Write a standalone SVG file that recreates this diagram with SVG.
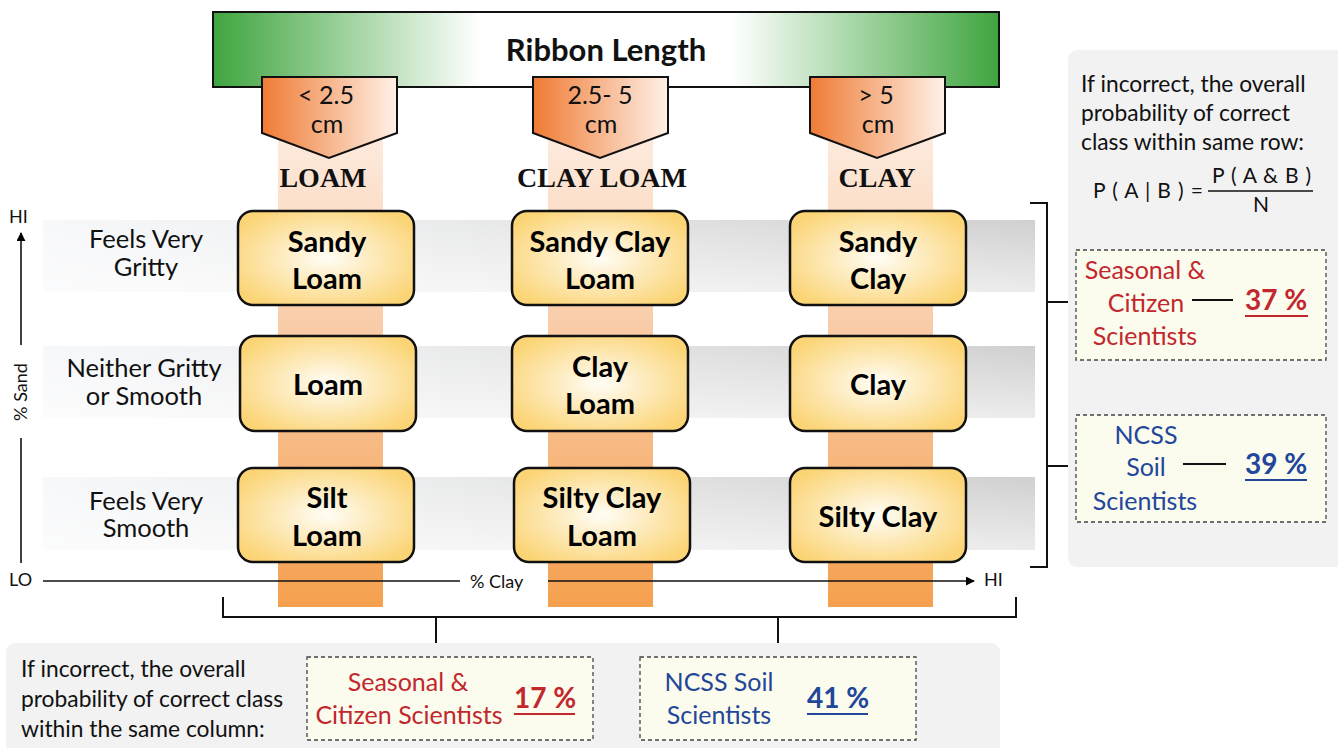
<svg xmlns="http://www.w3.org/2000/svg" width="1338" height="748" viewBox="0 0 1338 748">
<defs>
<linearGradient id="gGreen" x1="0" y1="0" x2="1" y2="0">
<stop offset="0" stop-color="#3fa53f"/><stop offset="0.34" stop-color="#ffffff"/><stop offset="0.66" stop-color="#ffffff"/><stop offset="1" stop-color="#3fa53f"/>
</linearGradient>
<linearGradient id="gPent" x1="0" y1="0" x2="1" y2="0">
<stop offset="0" stop-color="#ef7b34"/><stop offset="1" stop-color="#fff1e8"/>
</linearGradient>
<linearGradient id="gStripe" x1="0" y1="0" x2="0" y2="1">
<stop offset="0" stop-color="#fdeadd"/><stop offset="0.4" stop-color="#f9cca8"/><stop offset="1" stop-color="#f5a04e"/>
</linearGradient>
<linearGradient id="gBand" x1="0" y1="0" x2="1" y2="0">
<stop offset="0" stop-color="#f7f8fa"/><stop offset="0.3" stop-color="#eeeff0"/><stop offset="1" stop-color="#d0d0d0"/>
</linearGradient>
<linearGradient id="gBandV" x1="0" y1="0" x2="0" y2="1">
<stop offset="0" stop-color="#ffffff" stop-opacity="0"/><stop offset="1" stop-color="#ffffff" stop-opacity="0.6"/>
</linearGradient>
<radialGradient id="gNode" cx="0.5" cy="0.5" r="0.6">
<stop offset="0" stop-color="#fffdf6"/><stop offset="1" stop-color="#fbd475"/>
</radialGradient>
<marker id="arr" viewBox="0 0 10 10" refX="9" refY="5" markerWidth="9" markerHeight="9" orient="auto" markerUnits="userSpaceOnUse">
<path d="M0,0 L10,5 L0,10 z" fill="#000"/>
</marker>
<style>
.nodebox{fill:url(#gNode);stroke:#111;stroke-width:2.5}
.nt{font-family:Lato,"Open Sans",sans-serif;font-weight:bold;font-size:29px;fill:#000;text-anchor:middle}
.lbl{font-family:Lato,"Open Sans",sans-serif;font-size:25.5px;fill:#111;text-anchor:middle}
.pt{font-family:Lato,"Open Sans",sans-serif;font-size:25px;fill:#111;text-anchor:middle}
.col{font-family:"Liberation Serif",serif;font-weight:bold;font-size:28px;fill:#111;text-anchor:middle}
.ax{font-family:Lato,"Open Sans",sans-serif;font-size:18px;fill:#111}
.ptxt{font-family:Lato,"Open Sans",sans-serif;font-size:22.8px;fill:#111}
.ctxt{font-family:Lato,"Open Sans",sans-serif;font-size:25px}
.red{fill:#c1272d}
.blue{fill:#22479a}
.pct{font-family:Lato,"Open Sans",sans-serif;font-weight:bold;font-size:28px}
.fx{font-family:Lato,"Open Sans",sans-serif;font-size:21px;fill:#111}
.dash{fill:#fbfbee;stroke:#444;stroke-width:1.3;stroke-dasharray:4 3}
.ln{stroke:#111;stroke-width:2;fill:none}
.stripe{fill:url(#gStripe)}
.band{fill:url(#gBand)}
.bandv{fill:url(#gBandV)}
.pent{fill:url(#gPent);stroke:#111;stroke-width:2}
</style>
</defs>
<rect width="1338" height="748" fill="#fff"/>

<!-- stripes -->
<rect class="stripe" x="278" y="140" width="105" height="467"/>
<rect class="stripe" x="548" y="140" width="105" height="467"/>
<rect class="stripe" x="828" y="140" width="105" height="467"/>

<!-- row bands -->
<g id="bands">
<rect class="band" x="43" y="220" width="992" height="72"/>
<rect class="bandv" x="43" y="220" width="992" height="72"/>
<rect class="band" x="43" y="346" width="992" height="72"/>
<rect class="bandv" x="43" y="346" width="992" height="72"/>
<rect class="band" x="43" y="477" width="992" height="73"/>
<rect class="bandv" x="43" y="477" width="992" height="73"/>
</g>

<!-- header -->
<g id="ribbon">
<rect x="213" y="12" width="786" height="75" fill="url(#gGreen)" stroke="#111" stroke-width="2"/>
<text x="606" y="61" text-anchor="middle" font-family="Lato,'Open Sans',sans-serif" font-weight="bold" font-size="31" fill="#111">Ribbon Length</text>
</g>
<g id="len1">
<path class="pent" d="M262,77 H397 V133 L329,158 L262,133 Z"/>
<text class="pt" x="326" y="104">&lt; 2.5</text>
<text class="pt" x="327" y="133">cm</text>
</g>
<g id="len2">
<path class="pent" d="M533,77 H668 V133 L600,158 L533,133 Z"/>
<text class="pt" x="600" y="104">2.5- 5</text>
<text class="pt" x="601" y="133">cm</text>
</g>
<g id="len3">
<path class="pent" d="M810,77 H945 V133 L877,158 L810,133 Z"/>
<text class="pt" x="876" y="104">&gt; 5</text>
<text class="pt" x="878" y="133">cm</text>
</g>
<text class="col" x="323" y="187">LOAM</text>
<text class="col" x="602" y="187">CLAY LOAM</text>
<text class="col" x="877" y="187">CLAY</text>

<!-- row labels -->
<text class="lbl" x="146" y="248">Feels Very</text>
<text class="lbl" x="146" y="276">Gritty</text>
<text class="lbl" x="144" y="377">Neither Gritty</text>
<text class="lbl" x="144" y="405">or Smooth</text>
<text class="lbl" x="146" y="510">Feels Very</text>
<text class="lbl" x="146" y="537">Smooth</text>

<!-- nodes -->
<g id="n-sandy-loam"><rect class="nodebox" x="238" y="211" width="176" height="94" rx="15"/><text class="nt" x="327" y="252">Sandy</text><text class="nt" x="327" y="289">Loam</text></g>
<g id="n-sandy-clay-loam"><rect class="nodebox" x="512" y="211" width="176" height="94" rx="15"/><text class="nt" x="600" y="252">Sandy Clay</text><text class="nt" x="600" y="289">Loam</text></g>
<g id="n-sandy-clay"><rect class="nodebox" x="790" y="211" width="176" height="94" rx="15"/><text class="nt" x="878" y="252">Sandy</text><text class="nt" x="878" y="289">Clay</text></g>
<g id="n-loam"><rect class="nodebox" x="240" y="336" width="176" height="95" rx="15"/><text class="nt" x="328" y="395">Loam</text></g>
<g id="n-clay-loam"><rect class="nodebox" x="512" y="336" width="176" height="95" rx="15"/><text class="nt" x="600" y="377">Clay</text><text class="nt" x="600" y="414">Loam</text></g>
<g id="n-clay"><rect class="nodebox" x="790" y="336" width="176" height="95" rx="15"/><text class="nt" x="878" y="395">Clay</text></g>
<g id="n-silt-loam"><rect class="nodebox" x="238" y="468" width="176" height="94" rx="15"/><text class="nt" x="327" y="508">Silt</text><text class="nt" x="327" y="546">Loam</text></g>
<g id="n-silty-clay-loam"><rect class="nodebox" x="514" y="468" width="176" height="94" rx="15"/><text class="nt" x="602" y="508">Silty Clay</text><text class="nt" x="602" y="546">Loam</text></g>
<g id="n-silty-clay"><rect class="nodebox" x="790" y="468" width="176" height="94" rx="15"/><text class="nt" x="878" y="527">Silty Clay</text></g>

<!-- axes -->
<g id="axes">
<text class="ax" x="9" y="223">HI</text>
<line x1="21" y1="345" x2="21" y2="233" stroke="#111" stroke-width="1.6" marker-end="url(#arr)"/>
<text class="ax" x="0" y="0" transform="translate(27,392) rotate(-90)" text-anchor="middle">% Sand</text>
<line x1="21" y1="438" x2="21" y2="563" stroke="#111" stroke-width="1.6"/>
<text class="ax" x="9" y="586">LO</text>
<line x1="43" y1="581" x2="460" y2="581" stroke="#111" stroke-width="1.6"/>
<text class="ax" x="470" y="588">% Clay</text>
<line x1="548" y1="581" x2="974" y2="581" stroke="#111" stroke-width="1.6" marker-end="url(#arr)"/>
<text class="ax" x="984" y="586">HI</text>
</g>

<!-- connectors -->
<g id="connectors">
<path class="ln" d="M223,597 V617 H1016 V597"/>
<path class="ln" d="M436,617 V657"/>
<path class="ln" d="M778,617 V657"/>
<path class="ln" d="M1030,203 H1047 V567 H1030"/>
<path class="ln" d="M1047,302 H1076"/>
<path class="ln" d="M1047,466 H1076"/>
</g>

<!-- right panel -->
<g id="row-panel">
<rect x="1068" y="50" width="280" height="517" rx="9" fill="#f2f2f2"/>
<text class="ptxt" x="1081" y="92">If incorrect, the overall</text>
<text class="ptxt" x="1081" y="121">probability of correct</text>
<text class="ptxt" x="1081" y="150">class within same row:</text>
<text class="fx" x="1093" y="198" textLength="110" lengthAdjust="spacing">P ( A | B ) =</text>
<line x1="1208" y1="191" x2="1313" y2="191" stroke="#111" stroke-width="1.6"/>
<text class="fx" x="1212" y="183" textLength="99" lengthAdjust="spacing">P ( A &amp; B )</text>
<text class="fx" x="1261" y="212" text-anchor="middle">N</text>
</g>
<g id="row-seasonal">
<rect class="dash" x="1076" y="250" width="250" height="110"/>
<text class="ctxt red" x="1145" y="279" text-anchor="middle">Seasonal &amp;</text>
<text class="ctxt red" x="1146" y="312" text-anchor="middle">Citizen</text>
<text class="ctxt red" x="1145" y="345" text-anchor="middle">Scientists</text>
<line x1="1192" y1="300" x2="1233" y2="300" stroke="#111" stroke-width="2"/>
<text class="pct red" x="1245" y="310">37 %</text>
<line x1="1245" y1="316" x2="1308" y2="316" stroke="#c1272d" stroke-width="2"/>
</g>
<g id="row-ncss">
<rect class="dash" x="1076" y="415" width="250" height="107"/>
<text class="ctxt blue" x="1146" y="444" text-anchor="middle">NCSS</text>
<text class="ctxt blue" x="1146" y="476" text-anchor="middle">Soil</text>
<text class="ctxt blue" x="1145" y="510" text-anchor="middle">Scientists</text>
<line x1="1183" y1="464" x2="1226" y2="464" stroke="#111" stroke-width="2"/>
<text class="pct blue" x="1245" y="474">39 %</text>
<line x1="1245" y1="480" x2="1307" y2="480" stroke="#22479a" stroke-width="2"/>
</g>

<!-- bottom panel -->
<g id="col-panel">
<rect x="6" y="643" width="994" height="115" rx="9" fill="#f2f2f2"/>
<text class="ptxt" x="21" y="677">If incorrect, the overall</text>
<text class="ptxt" x="21" y="707">probability of correct class</text>
<text class="ptxt" x="21" y="737">within the same column:</text>
</g>
<g id="col-seasonal">
<rect class="dash" x="307" y="657" width="286" height="83"/>
<text class="ctxt red" x="408" y="691" text-anchor="middle">Seasonal &amp;</text>
<text class="ctxt red" x="409" y="724" text-anchor="middle">Citizen Scientists</text>
<text class="pct red" x="514" y="708">17 %</text>
<line x1="514" y1="714" x2="575" y2="714" stroke="#c1272d" stroke-width="2"/>
</g>
<g id="col-ncss">
<rect class="dash" x="640" y="657" width="276" height="83"/>
<text class="ctxt blue" x="719" y="691" text-anchor="middle">NCSS Soil</text>
<text class="ctxt blue" x="719" y="724" text-anchor="middle">Scientists</text>
<text class="pct blue" x="807" y="708">41 %</text>
<line x1="807" y1="714" x2="868" y2="714" stroke="#22479a" stroke-width="2"/>
</g>
</svg>
